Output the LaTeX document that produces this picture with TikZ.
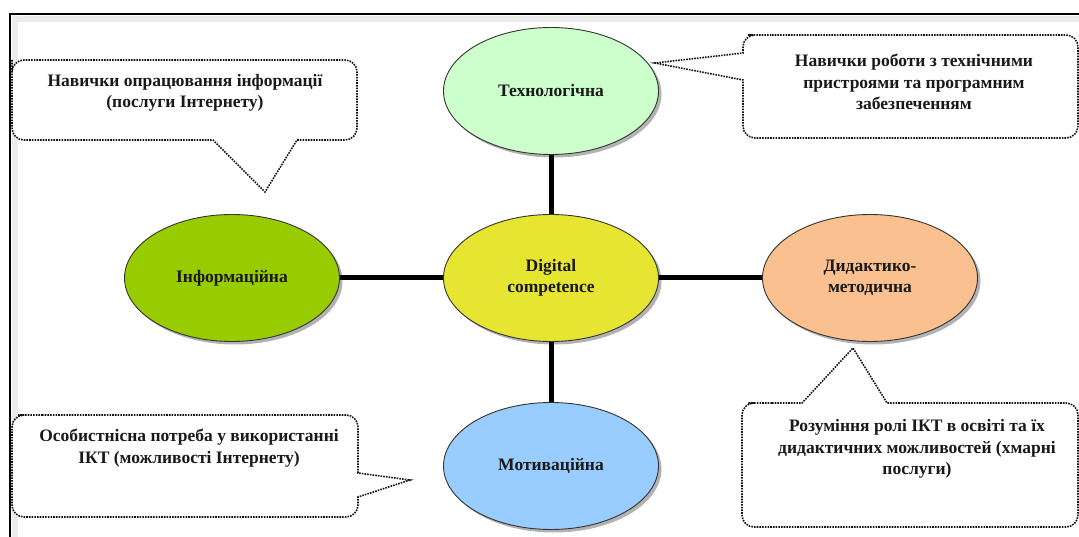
\documentclass[tikz,border=0pt]{standalone}
\usepackage{fontspec}
\setmainfont{Liberation Serif}
\usetikzlibrary{shapes.geometric,shadows}
\definecolor{techc}{RGB}{204,255,204}
\definecolor{infoc}{RGB}{153,204,0}
\definecolor{digc}{RGB}{230,230,50}
\definecolor{didc}{RGB}{250,192,143}
\definecolor{motc}{RGB}{153,204,255}
\definecolor{txtc}{RGB}{25,25,25}
\definecolor{dotc}{RGB}{20,20,20}
\tikzset{
  bub/.style={ellipse, draw=black!80, line width=0.9pt, minimum width=215pt, minimum height=127pt,
    inner sep=0pt, align=center, font=\bfseries\fontsize{17.5}{21}\selectfont, text=txtc,
    drop shadow={shadow xshift=3pt, shadow yshift=-3pt, opacity=0.3, fill=black}},
  link/.style={line width=5pt, black},
  callout/.style={draw=dotc, line width=1.6pt, dash pattern=on 1.6pt off 1.1pt, fill=white},
  ctext/.style={align=center, font=\bfseries\fontsize{17.5}{21.5}\selectfont, text=txtc, inner sep=0pt},
}
\begin{document}
\begin{tikzpicture}[x=1pt,y=-1pt]
\useasboundingbox (0,0) rectangle (1079,537);
% frame
\draw[line width=6pt, black!8] (15,545) -- (15,19) -- (1090,19);
\draw[line width=2.6pt, black] (10,545) -- (10,14) -- (1090,14);

% ellipses
\node[bub, fill=techc] (tech) at (551,91) {Технологічна};
\node[bub, fill=infoc] (info) at (232,278) {Інформаційна};
\node[bub, fill=digc]  (dig)  at (551,278) {Digital\\competence};
\node[bub, fill=didc]  (did)  at (870,278) {Дидактико-\\методична};
\node[bub, fill=motc]  (mot)  at (551,466) {Мотиваційна};

% connectors
\draw[link] (tech.south) -- (dig.north);
\draw[link] (dig.south) -- (mot.north);
\draw[link] (info.east) -- (dig.west);
\draw[link] (dig.east) -- (did.west);

% callouts
\draw[callout] (12,72) [rounded corners=12pt] -- (12,60) -- (357,60) -- (357,140) [sharp corners] -- (297,140) -- (265,192) -- (213,140) [rounded corners=12pt] -- (12,140) -- cycle;
\node[ctext] (t1) at (185,93) {Навички опрацювання інформації\\(послуги Інтернету)};

\draw[callout] (760,35) [rounded corners=12pt] -- (1078,35) -- (1078,138) -- (743,138) [sharp corners] -- (743,80) -- (655,63) -- (743,53) [rounded corners=12pt] -- (743,35) -- cycle;
\node[ctext] (t2) at (914,82) {Навички роботи з технічними\\пристроями та програмним\\забезпеченням};

\draw[callout] (30,415) [rounded corners=12pt] -- (358,415) [sharp corners] -- (358,473) -- (410,480) -- (358,497) [rounded corners=12pt] -- (358,517) -- (12,517) -- (12,415) -- cycle;
\node[ctext] (t3) at (189,448) {Особистнісна потреба у використанні\\ІКТ (можливості Інтернету)};

\draw[callout] (760,403) [sharp corners] -- (802,403) -- (853,348) -- (887,403) [rounded corners=12pt] -- (1078,403) -- (1078,527) -- (742,527) -- (742,403) -- cycle;
\node[ctext] (t4) at (917,449) {Розуміння ролі ІКТ в освіті та їх\\дидактичних можливостей (хмарні\\послуги)};
\end{tikzpicture}
\end{document}
